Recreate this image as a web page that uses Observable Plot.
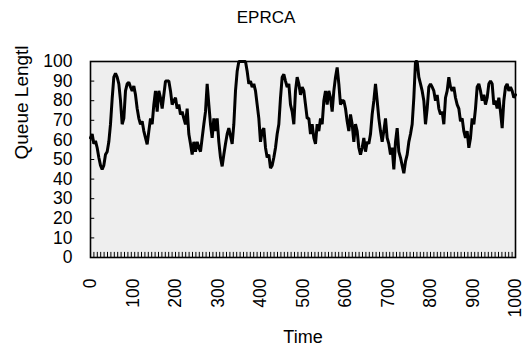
<!DOCTYPE html>
<html>
<head>
<meta charset="utf-8">
<script src="https://cdn.jsdelivr.net/npm/d3@7"></script>
<script src="https://cdn.jsdelivr.net/npm/@observablehq/plot@0.6"></script>
<style>
  body { margin: 0; background: white; }
</style>
</head>
<body>
<div id="chart"></div>
<script>
// Queue length sampled at regular intervals over 0..1000 time units
const timeSpan = 1000;
const queueLength = [
  // 0 .. ~330
  61, 63, 58, 59.5, 56, 51, 47, 45, 47, 52.5,
  54, 59, 68, 81, 92, 94, 92, 88.6, 80, 68,
  71, 85, 88.6, 89.4, 87, 85, 87.5, 83, 76, 71,
  68, 69.5, 64.5, 61, 57.7, 64.5, 71, 68, 78, 85,
  74.4, 85, 81.5, 76, 83, 90, 90, 90, 85, 78,
  80, 81.5, 76, 78, 73, 74.4, 71, 68, 76, 63,
  58, 52.5, 59, 54, 59, 56, 54, 61, 68, 74.4,
  88.6, 78, 68, 61, 71, 64.5, 71, 59, 51, 46.5,
  52.5, 58, 63, 66, 62,
  // ~330 .. ~667
  58, 68, 85, 95, 100, 100, 100, 100, 100, 95,
  88.6, 90, 87, 88.6, 85, 78, 71, 59, 64.5, 66,
  56, 51, 52.5, 45.6, 47, 51, 56, 63, 68, 81.5,
  92, 93.5, 90, 87, 88.6, 78, 74.4, 68, 85, 92,
  88.6, 83, 87, 85, 78, 71, 71, 63, 68, 61,
  58, 68, 64.5, 71, 68, 80, 85, 78, 85, 81.5,
  74.4, 85, 92, 97, 88.6, 78, 80, 80, 76, 69.5,
  64.5, 73, 68, 59, 68, 64.5, 56, 52.5, 56, 61,
  54, 59, 58, 63, 73, 80,
  // ~667 .. 1000
  88.6, 80, 71, 64.5, 59, 64.5, 71, 61, 58, 52.5,
  56, 45, 59, 66, 54, 51, 47, 43, 49, 52.5,
  59, 63, 68, 81.5, 100, 100, 92, 88.6, 85, 80,
  68, 76, 87, 88.6, 87, 85, 80, 83, 76, 73,
  74.4, 68, 81.5, 85, 92, 87, 85, 87, 81.5, 78,
  76, 69.5, 71, 64.5, 61, 64.5, 56, 61, 71, 68,
  76, 87, 88.6, 85, 80, 83, 78, 81.5, 88.6, 90,
  88.6, 78, 80, 76, 81.5, 74.4, 66, 80, 87, 88.6,
  85, 87, 85, 81.5, 83
];
const xTickValues = [0, 100, 200, 300, 400, 500, 600, 700, 800, 900, 1000];
const yTickValues = [0, 10, 20, 30, 40, 50, 60, 70, 80, 90, 100];
const titleText = "EPRCA";
const xLabel = "Time";
const yLabel = "Queue Lengtl";

const step = timeSpan / (queueLength.length - 1);
const series = queueLength.map((q, i) => ({time: i * step, queue: q}));
const minorTicks = d3.range(0, 1001, 8);

const chart = Plot.plot({
  width: 532,
  height: 350,
  marginLeft: 90,
  marginRight: 17,
  marginTop: 61,
  marginBottom: 93,
  x: {domain: [0, 1000]},
  y: {domain: [0, 100]},
  style: {fontFamily: "'Liberation Sans', Arial, sans-serif", fontSize: "17px", color: "black", background: "white"},
  marks: [
    Plot.frame({fill: "#eeeeee", stroke: null}),
    Plot.ruleX(minorTicks, {y1: 0, y2: 2.6, stroke: "black", strokeWidth: 1}),
    Plot.ruleY(yTickValues, {x1: 0, x2: 10, stroke: "black", strokeWidth: 1}),
    Plot.line(series, {x: "time", y: "queue", stroke: "black", strokeWidth: 3, strokeLinejoin: "miter"}),
    Plot.frame({stroke: "black", strokeWidth: 1.6}),
    Plot.axisY({ticks: yTickValues, tickSize: 0, tickPadding: 18, label: null, fontSize: 17.5, tickFormat: d => String(d)}),
    Plot.axisX({ticks: xTickValues, tickSize: 0, tickPadding: 21, tickRotate: -90, label: null, fontSize: 17.5, tickFormat: d => String(d)}),
    Plot.text([titleText], {frameAnchor: "top", dx: -37, dy: -44, fontSize: 17, lineAnchor: "middle"}),
    Plot.text([xLabel], {frameAnchor: "bottom", dy: 80, fontSize: 18, lineAnchor: "middle"}),
    Plot.text([yLabel], {frameAnchor: "left", dx: -69, rotate: -90, fontSize: 19, lineAnchor: "middle"})
  ]
});
document.getElementById("chart").append(chart);
</script>
</body>
</html>
